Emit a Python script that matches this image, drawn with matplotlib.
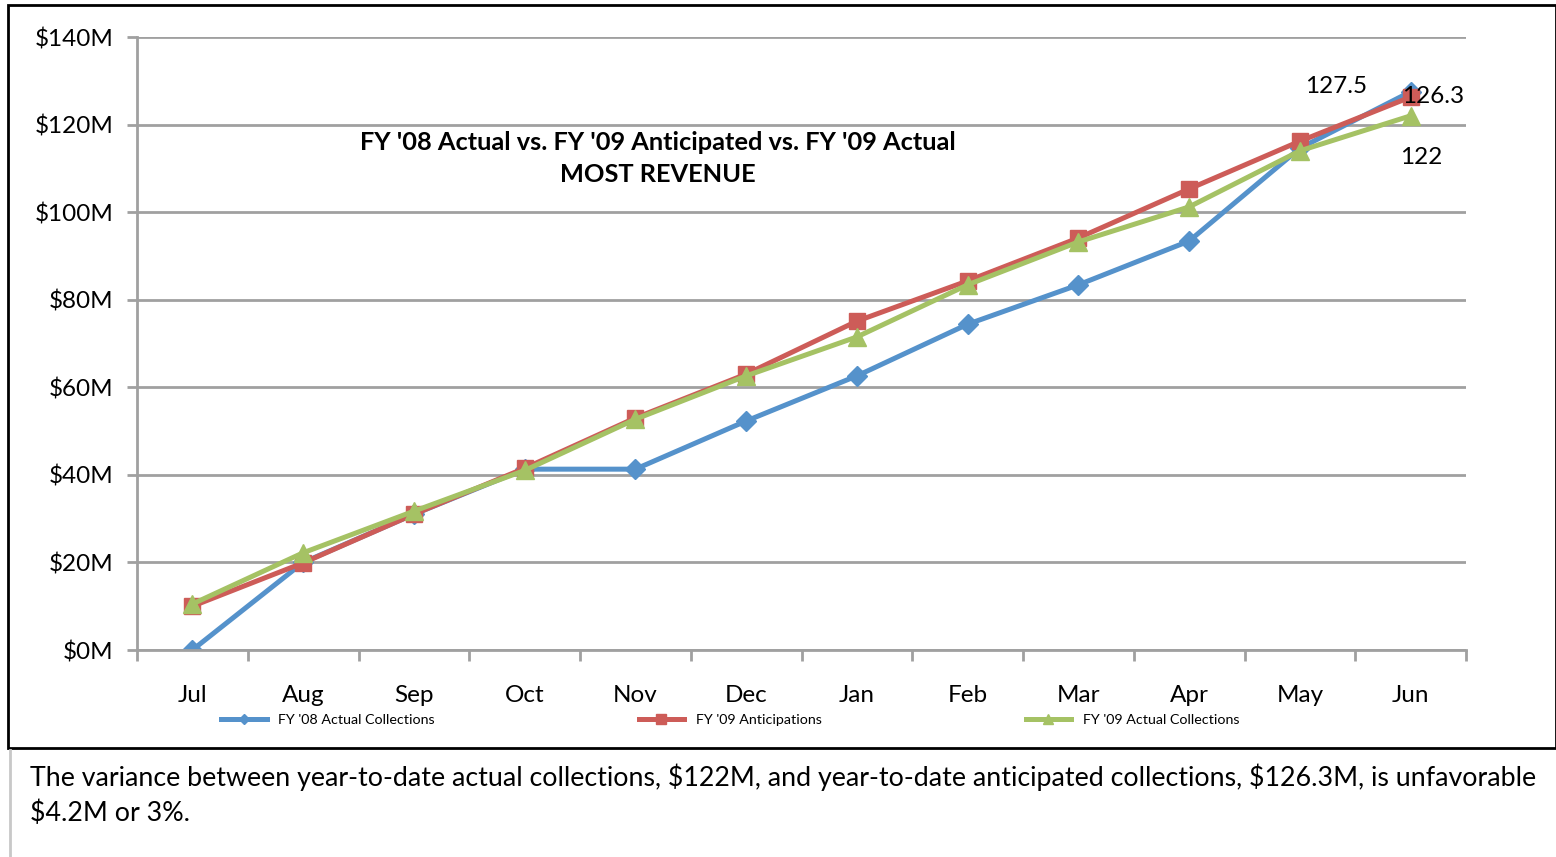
import matplotlib
matplotlib.use("Agg")
import matplotlib.pyplot as plt
from matplotlib.patches import Rectangle
from matplotlib.lines import Line2D

months = ["Jul", "Aug", "Sep", "Oct", "Nov", "Dec", "Jan", "Feb", "Mar", "Apr", "May", "Jun"]
fy08_actual = [0, 20, 31, 41.3, 41.3, 52.3, 62.6, 74.4, 83.4, 93.4, 114.6, 127.5]
fy09_antic = [10, 19.9, 31, 41.5, 53, 63, 75.1, 84.3, 94.1, 105.3, 116.2, 126.3]
fy09_actual = [10.5, 22.2, 31.7, 41, 52.7, 62.6, 71.5, 83.4, 93.2, 101.2, 114, 122]
yticks = [0, 20, 40, 60, 80, 100, 120, 140]

plt.rcParams['font.family'] = ['Lato', 'DejaVu Sans']

W, H = 1556, 857
fig = plt.figure(figsize=(W / 100, H / 100), dpi=100)

# outer chart frame
fig.patches.append(Rectangle((8 / W, 1 - 748 / H), (W - 8) / W, (748 - 5) / H,
                             transform=fig.transFigure, fill=False, ec="black", lw=2))
fig.add_artist(Line2D([10 / W, 10 / W], [0, 1 - 750 / H], transform=fig.transFigure,
                      color="#c8c8c8", lw=2))

ax = fig.add_axes([137 / W, 1 - 650 / H, (1466 - 137) / W, (650 - 37) / H])
grey = "#a0a0a0"
x = list(range(len(months)))

ax.plot(x, fy08_actual, color="#5592CB", lw=3.6, marker="D", ms=10, label="FY '08 Actual Collections")
ax.plot(x, fy09_antic, color="#CD5C58", lw=3.6, marker="s", ms=12, label="FY '09 Anticipations")
ax.plot(x, fy09_actual, color="#A5C264", lw=3.6, marker="^", ms=13, label="FY '09 Actual Collections")

ax.set_xlim(-0.5, 11.5)
ax.set_ylim(0, 140)
ax.set_yticks(yticks)
ax.set_yticklabels([r"\${}M".format(v) for v in yticks], fontsize=17.5)
ax.set_xticks(x)
ax.set_xticklabels(months, fontsize=17.5)
ax.set_xticks([i - 0.5 for i in range(13)], minor=True)
ax.tick_params(axis="x", which="major", length=0, pad=25)
ax.tick_params(axis="x", which="minor", length=8, color=grey, width=2)
ax.tick_params(axis="y", length=7, color=grey, width=2, pad=10)
ax.grid(axis="y", color=grey, lw=2)
ax.set_axisbelow(True)
for s in ["top", "right"]:
    ax.spines[s].set_visible(False)
for s in ["left", "bottom"]:
    ax.spines[s].set_color(grey)
    ax.spines[s].set_linewidth(2)

# data labels
ax.text(10.33, 128.6, "127.5", fontsize=17.5, ha="center", va="center")
ax.text(11.2, 126.3, "126.3", fontsize=17.5, ha="center", va="center")
ax.text(11.1, 112.5, "122", fontsize=17.5, ha="center", va="center")

ax.text(4.2, 112.2, "FY '08 Actual vs. FY '09 Anticipated vs. FY '09 Actual\nMOST REVENUE",
        fontsize=18.3, fontweight="bold", ha="center", va="center", linespacing=1.5)

leg = fig.legend(loc="center", bbox_to_anchor=(215 / W, 1 - 730 / H, (1245 - 215) / W, 20 / H),
                 mode="expand", ncol=3, frameon=False, fontsize=10.3, markerscale=0.55,
                 handlelength=3.2, borderaxespad=0)

fig.text(30 / W, 1 - 795 / H,
         "The variance between year-to-date actual collections, \\$122M, and year-to-date anticipated collections, \\$126.3M, is unfavorable\n\\$4.2M or 3%.",
         fontsize=19.3, ha="left", va="center", linespacing=1.45)

fig.savefig("out.png", dpi=100)
